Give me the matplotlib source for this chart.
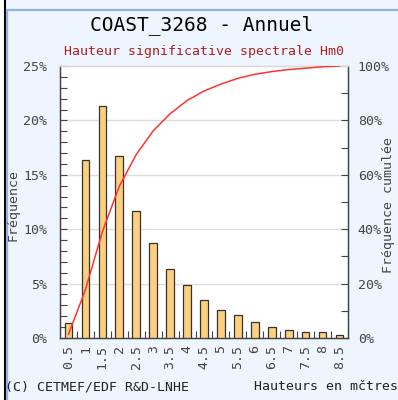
import matplotlib.pyplot as plt
import numpy as np
from matplotlib.lines import Line2D
from matplotlib.patches import Rectangle

# Hm0 classes (m) and frequency of each class (%)
heights = ['0.5', '1', '1.5', '2', '2.5', '3', '3.5', '4', '4.5',
           '5', '5.5', '6', '6.5', '7', '7.5', '8', '8.5']
freq = [1.35, 16.4, 21.35, 16.7, 11.7, 8.7, 6.3, 4.85, 3.5,
        2.57, 2.1, 1.5, 0.98, 0.74, 0.52, 0.52, 0.28]

left_ticks = [0, 5, 10, 15, 20, 25]
right_ticks = [0, 20, 40, 60, 80, 100]

title = 'COAST_3268 - Annuel'
subtitle = 'Hauteur significative spectrale Hm0'

plt.rcParams['font.family'] = ['DejaVu Sans Mono']

bg = '#eef5fe'
fig = plt.figure(figsize=(3.98, 4.0), dpi=100, facecolor=bg)

# frame decorations (kept below everything else)
fig.add_artist(Rectangle((0, 0), 4 / 398, 1, transform=fig.transFigure,
                         facecolor='white', edgecolor='none', zorder=-3))
fig.add_artist(Line2D([5 / 398, 5 / 398], [0, 1], transform=fig.transFigure,
                      color='black', lw=1.5, zorder=-2))
fig.add_artist(Line2D([7.5 / 398, 7.5 / 398], [0, 1 - 9.5 / 400],
                      transform=fig.transFigure, color='#8fb0ec', lw=1.6, zorder=-2))
fig.add_artist(Line2D([7.5 / 398, 1], [1 - 9.5 / 400, 1 - 9.5 / 400],
                      transform=fig.transFigure, color='#8fb0ec', lw=1.6, zorder=-2))

ax = fig.add_axes([60 / 398, 1 - 338 / 400, 288 / 398, 272 / 400])
ax.set_facecolor('white')
x = np.arange(len(freq))

ax.bar(x, freq, width=0.45, color='#fcd07e', edgecolor='#333333', linewidth=0.9, zorder=3)
ax.set_xlim(-0.5, len(freq) - 0.5)
ax.set_ylim(0, 25)

ax.set_yticks(left_ticks)
ax.set_yticklabels([f'{v}%' for v in left_ticks])
ax.set_yticks(np.arange(0, 26, 1), minor=True)
ax.tick_params(axis='y', which='both', direction='in', length=5, width=0.8,
               colors='#444444', labelsize=9.5, labelcolor='#444444', pad=9)
ax.set_xticks(x)
ax.set_xticklabels(heights, rotation=90)
ax.set_xticks(np.arange(0.5, len(freq) - 1, 1), minor=True)
ax.tick_params(axis='x', which='major', length=0, labelsize=9.5,
               labelcolor='#444444', pad=5)
ax.tick_params(axis='x', which='minor', direction='in', length=5, width=0.8,
               colors='#444444')
for v in left_ticks[1:-1]:
    ax.axhline(v, color='#dddddd', lw=1, zorder=1)
for s in ['left', 'bottom', 'right']:
    ax.spines[s].set_color('#444444')
    ax.spines[s].set_linewidth(1.0)
ax.spines['top'].set_color('#d8d8d8')
ax.spines['top'].set_linewidth(1.0)
ax.set_ylabel('Fréquence', fontsize=9.5, color='#444444')
ax.yaxis.set_label_coords(-0.142, 0.49)

ax2 = ax.twinx()
cum = np.cumsum(freq) / np.sum(freq) * 100
ax2.plot(x, cum, color='#ff3333', lw=1.1, zorder=4)
ax2.set_ylim(0, 100)
ax2.set_yticks(right_ticks)
ax2.set_yticklabels([f'{v}%' for v in right_ticks])
ax2.set_yticks(np.arange(0, 101, 10), minor=True)
ax2.tick_params(axis='y', which='both', direction='in', length=5, width=0.8,
                colors='#444444', labelsize=9.5, labelcolor='#444444', pad=7)
for s in ['left', 'bottom', 'right']:
    ax2.spines[s].set_color('#444444')
ax2.spines['top'].set_color('#d8d8d8')
ax2.set_ylabel('Fréquence cumulée', fontsize=9.5, color='#444444')
ax2.yaxis.set_label_coords(1.118, 0.49)

fig.text(202 / 398, 1 - 25 / 400, title, ha='center', va='center',
         fontsize=14, color='black')
fig.text(204 / 398, 1 - 51 / 400, subtitle, ha='center', va='center',
         fontsize=9.5, color='#aa2222')
fig.text(5 / 398, 1 - 387 / 400, '(C) CETMEF/EDF R&D-LNHE', ha='left', va='center',
         fontsize=9.5, color='#222222')
fig.text(254 / 398, 1 - 387 / 400, 'Hauteurs en mčtres', ha='left', va='center',
         fontsize=9.5, color='#222222')

fig.savefig('out.png', dpi=100, facecolor=bg)
